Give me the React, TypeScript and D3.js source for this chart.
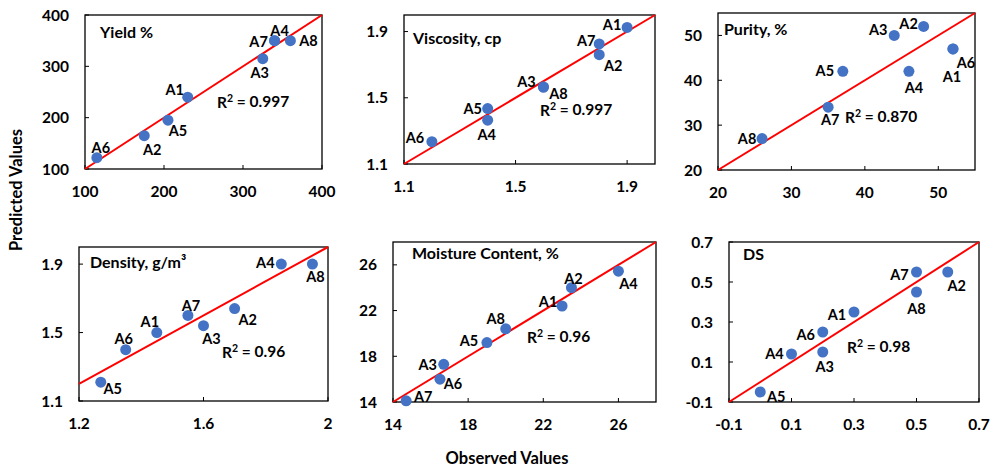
import * as React from "react";
import * as d3 from "d3";

// sample ids, same order in every series
const SAMPLES = ["A1", "A2", "A3", "A4", "A5", "A6", "A7", "A8"];

const yieldObs = [230, 175, 325, 340, 205, 115, 340, 360];
const yieldPred = [240, 165, 315, 350, 195, 122, 350, 350];
const viscObs = [1.9, 1.8, 1.6, 1.4, 1.4, 1.2, 1.8, 1.6];
const viscPred = [1.925, 1.76, 1.565, 1.365, 1.435, 1.235, 1.825, 1.565];
const purityObs = [52, 48, 44, 46, 37, 52, 35, 26];
const purityPred = [47, 52, 50, 42, 42, 47, 34, 27];
const densityObs = [1.45, 1.7, 1.6, 1.85, 1.27, 1.35, 1.55, 1.95];
const densityPred = [1.5, 1.64, 1.54, 1.9, 1.21, 1.4, 1.6, 1.9];
const moistureObs = [23.0, 23.5, 16.7, 26.0, 19.0, 16.5, 14.7, 20.0];
const moisturePred = [22.4, 24.0, 17.3, 25.45, 19.2, 16.0, 14.1, 20.4];
const dsObs = [0.3, 0.6, 0.2, 0.1, 0.0, 0.2, 0.5, 0.5];
const dsPred = [0.35, 0.55, 0.15, 0.14, -0.05, 0.25, 0.55, 0.45];

const titles = ["Yield %", "Viscosity, cp", "Purity, %", "Density, g/m³", "Moisture Content, %", "DS"];
const r2Values = ["0.997", "0.997", "0.870", "0.96", "0.96", "0.98"];

const xDomains: [number, number][] = [[100, 400], [1.1, 2.0], [20, 55], [1.2, 2.0], [14, 28], [-0.1, 0.7]];
const yDomains: [number, number][] = [[100, 400], [1.1, 2.0], [20, 55], [1.1, 2.0], [14, 28], [-0.1, 0.7]];
const xTicks = [[100, 200, 300, 400], [1.1, 1.5, 1.9], [20, 30, 40, 50], [1.2, 1.6, 2], [14, 18, 22, 26], [-0.1, 0.1, 0.3, 0.5, 0.7]];
const yTicks = [[100, 200, 300, 400], [1.1, 1.5, 1.9], [20, 30, 40, 50], [1.1, 1.5, 1.9], [14, 18, 22, 26], [-0.1, 0.1, 0.3, 0.5, 0.7]];

const observed = [yieldObs, viscObs, purityObs, densityObs, moistureObs, dsObs];
const predicted = [yieldPred, viscPred, purityPred, densityPred, moisturePred, dsPred];

// layout: plot boxes, title / R² anchors, label offsets from each dot
const BOXES = [
  { l: 85, t: 15, r: 322, b: 169 },
  { l: 404, t: 15, r: 655, b: 164 },
  { l: 718, t: 13, r: 975, b: 170 },
  { l: 79, t: 247, r: 328, b: 401 },
  { l: 393, t: 242, r: 656, b: 402 },
  { l: 729, t: 242, r: 979, b: 402 },
];
const TITLE_POS = [[100, 32], [413, 38], [724, 29], [90, 262], [412, 253], [743, 254]];
const R2_POS = [[217, 102], [540, 110], [845, 117], [222, 352], [527, 337], [847, 347]];
const LABEL_OFF = [
  [[-13, -7], [8, 14], [-3, 14], [5, -10], [10, 11], [4, -10], [-16, 1], [18, 0]],
  [[-15, -3], [14, 11], [-17, -5], [-1, 15], [-15, 0], [-17, -4], [-13, -3], [15, 7]],
  [[-1, 28], [-15, -3], [-16, -6], [5, 16], [-18, -1], [13, 14], [2, 13], [-15, 0]],
  [[-7, -11], [13, 11], [8, 13], [-16, -1], [12, 7], [-2, -11], [3, -10], [3, 13]],
  [[-14, -4], [2, -9], [-16, 0], [10, 13], [-18, -2], [13, 5], [17, -4], [-10, -10]],
  [[-17, 3], [9, 14], [2, 15], [-17, 0], [16, 5], [-17, 3], [-17, 3], [0, 17]],
];

const FONT = "Lato, 'Open Sans', sans-serif";
const DOT = "#4472C4";

function Panel({ i }: { i: number }) {
  const box = BOXES[i];
  const x = d3.scaleLinear().domain(xDomains[i]).range([box.l, box.r]);
  const y = d3.scaleLinear().domain(yDomains[i]).range([box.b, box.t]);
  const lo = Math.max(xDomains[i][0], yDomains[i][0]);
  const hi = Math.min(xDomains[i][1], yDomains[i][1]);
  const line = d3.line<number>().x((v) => x(v)).y((v) => y(v));

  return (
    <g>
      <rect x={box.l} y={box.t} width={box.r - box.l} height={box.b - box.t} fill="none" stroke="#000" strokeWidth={1.3} />
      {xTicks[i].map((v) => (
        <g key={`x${v}`}>
          <line x1={x(v)} x2={x(v)} y1={box.b} y2={box.b - 4} stroke="#000" />
          <text x={x(v)} y={box.b + 28} textAnchor="middle" fontSize={15.5}>{String(v)}</text>
        </g>
      ))}
      {yTicks[i].map((v) => (
        <g key={`y${v}`}>
          <line x1={box.l} x2={box.l + 4} y1={y(v)} y2={y(v)} stroke="#000" />
          <text x={box.l - 16} y={y(v)} dy="0.36em" textAnchor="end" fontSize={15.5}>{String(v)}</text>
        </g>
      ))}
      <path d={line([lo, hi]) ?? ""} stroke="#FF0000" strokeWidth={2} fill="none" />
      {SAMPLES.map((s, j) => (
        <circle key={s} cx={x(observed[i][j])} cy={y(predicted[i][j])} r={5.5} fill={DOT} />
      ))}
      {SAMPLES.map((s, j) => (
        <text
          key={`l${s}`}
          x={x(observed[i][j]) + LABEL_OFF[i][j][0]}
          y={y(predicted[i][j]) + LABEL_OFF[i][j][1]}
          dy="0.36em"
          textAnchor="middle"
          fontSize={14.5}
        >
          {s}
        </text>
      ))}
      <text x={TITLE_POS[i][0]} y={TITLE_POS[i][1]} dy="0.36em" fontSize={16}>{titles[i]}</text>
      <text x={R2_POS[i][0]} y={R2_POS[i][1]} dy="0.36em" fontSize={15.5}>
        R<tspan fontSize={10.5} dy="-0.5em">2</tspan>
        <tspan dy="0.3em"> = {r2Values[i]}</tspan>
      </text>
    </g>
  );
}

export default function App() {
  return (
    <svg width={992} height={468} style={{ position: "absolute", left: 0, top: 0, background: "#fff" }} fontFamily={FONT} fontWeight={700} fill="#000">
      {titles.map((_, i) => <Panel key={i} i={i} />)}
      <text x={507} y={464} textAnchor="middle" fontSize={16.5}>Observed Values</text>
      <text transform="translate(22,190) rotate(-90)" textAnchor="middle" fontSize={16.5}>Predicted Values</text>
    </svg>
  );
}
